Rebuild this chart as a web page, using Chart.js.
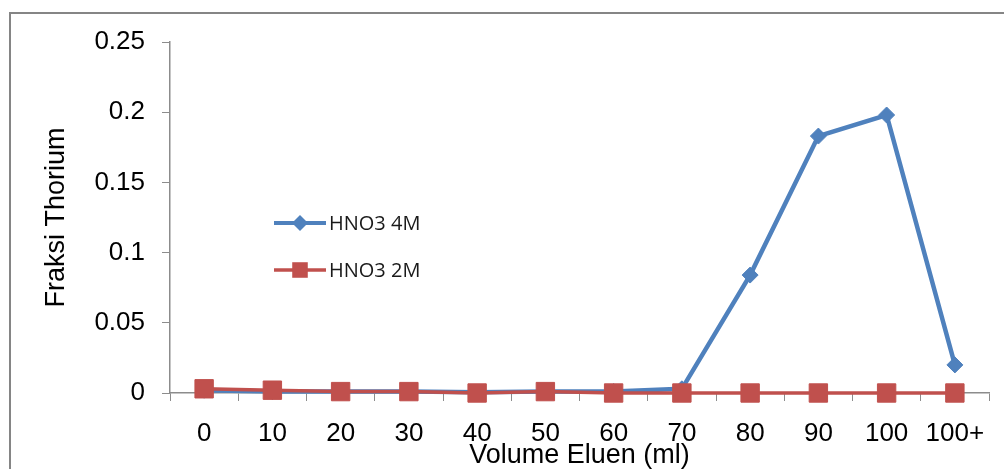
<!DOCTYPE html>
<html>
<head>
<meta charset="utf-8">
<script src="https://cdn.jsdelivr.net/npm/chart.js@4"></script>
<style>
  body { margin: 0; background: #fff; overflow: hidden; }
  #wrap { position: relative; width: 1004px; height: 469px; }
  #frame { position: absolute; left: 9px; top: 12px; width: 1100px; height: 600px;
           border-left: 2px solid #858585; border-top: 2px solid #858585; }
  #thorium { position: absolute; left: 0; top: 0; }
</style>
</head>
<body>
<div id="wrap">
  <div id="frame"></div>
  <canvas id="thorium" width="1004" height="469"></canvas>
</div>
<script>
const volumeLabels = ["0", "10", "20", "30", "40", "50", "60", "70", "80", "90", "100", "100+"];
const hno3_4M = [0.002, 0.001, 0.001, 0.001, 0.0005, 0.001, 0.001, 0.003, 0.084, 0.183, 0.198, 0.020];
const hno3_2M = [0.003, 0.002, 0.001, 0.001, 0, 0.001, 0, 0, 0, 0, 0, 0];

const blue = "#4F81BD";
const red = "#C0504D";
const axisGray = "#8c8c8c";

// legend sits inside the plot, like the original
const floatingLegend = {
  id: "floatingLegend",
  afterDraw(chart) {
    const ctx = chart.ctx;
    const items = [
      { text: "HNO3 4M", color: blue, style: "rectRot", radius: 8, width: 4, y: 223 },
      { text: "HNO3 2M", color: red, style: "rect", radius: 11, width: 3.5, y: 270 },
    ];
    ctx.save();
    items.forEach((it) => {
      ctx.strokeStyle = it.color;
      ctx.lineWidth = it.width;
      ctx.beginPath();
      ctx.moveTo(274, it.y);
      ctx.lineTo(326, it.y);
      ctx.stroke();
      ctx.fillStyle = it.color;
      Chart.helpers.drawPoint(ctx, { pointStyle: it.style, radius: it.radius, borderWidth: 0 }, 300, it.y);
      ctx.fillStyle = "#1a1a1a";
      ctx.font = "20px 'Open Sans'";
      ctx.textBaseline = "middle";
      ctx.textAlign = "left";
      ctx.fillText(it.text, 329, it.y + 1);
    });
    ctx.restore();
  },
};

let ctx = document.getElementById("thorium").getContext("2d");

let myChart = new Chart(ctx, {
  type: "line",
  data: {
    labels: volumeLabels,
    datasets: [
      {
        label: "HNO3 4M",
        data: hno3_4M,
        borderColor: blue,
        backgroundColor: blue,
        borderWidth: 4.5,
        pointStyle: "rectRot",
        pointRadius: 8,
        pointBorderWidth: 1,
        clip: false,
        order: 1,
      },
      {
        label: "HNO3 2M",
        data: hno3_2M,
        borderColor: red,
        backgroundColor: red,
        borderWidth: 3.5,
        pointStyle: "rect",
        pointRadius: 13,
        pointBorderWidth: 1,
        clip: false,
        order: 0,
      },
    ],
  },
  options: {
    responsive: false,
    animation: false,
    devicePixelRatio: 1,
    layout: { padding: { top: 42, right: 15, left: 0, bottom: 0 } },
    plugins: { legend: { display: false }, tooltip: { enabled: false } },
    scales: {
      x: {
        offset: true,
        grid: { offset: true, drawOnChartArea: false, drawTicks: true, tickLength: 8, color: axisGray },
        border: { color: axisGray, width: 1.5 },
        ticks: { color: "#000", padding: 17, maxRotation: 0, font: { family: "'Liberation Sans', Arial", size: 26 } },
        title: {
          display: true,
          text: "Volume Eluen (ml)",
          color: "#000",
          font: { family: "'Liberation Sans', Arial", size: 27, lineHeight: 0.8 },
          padding: { top: 0, bottom: 3 },
        },
        afterFit: (scale) => { scale.height = 76; },
      },
      y: {
        min: 0,
        max: 0.25,
        ticks: {
          stepSize: 0.05,
          color: "#000",
          padding: 17,
          font: { family: "'Liberation Sans', Arial", size: 26 },
          callback: (v) => String(parseFloat(v.toFixed(2))),
        },
        grid: { drawOnChartArea: false, drawTicks: true, tickLength: 8, color: axisGray },
        border: { color: axisGray, width: 1.5 },
        title: {
          display: true,
          text: "Fraksi Thorium",
          color: "#000",
          font: { family: "'Liberation Sans', Arial", size: 27 },
          padding: { top: 40, bottom: 0 },
        },
        afterFit: (scale) => { scale.width = 170; },
      },
    },
  },
  plugins: [floatingLegend],
});
</script>
</body>
</html>
